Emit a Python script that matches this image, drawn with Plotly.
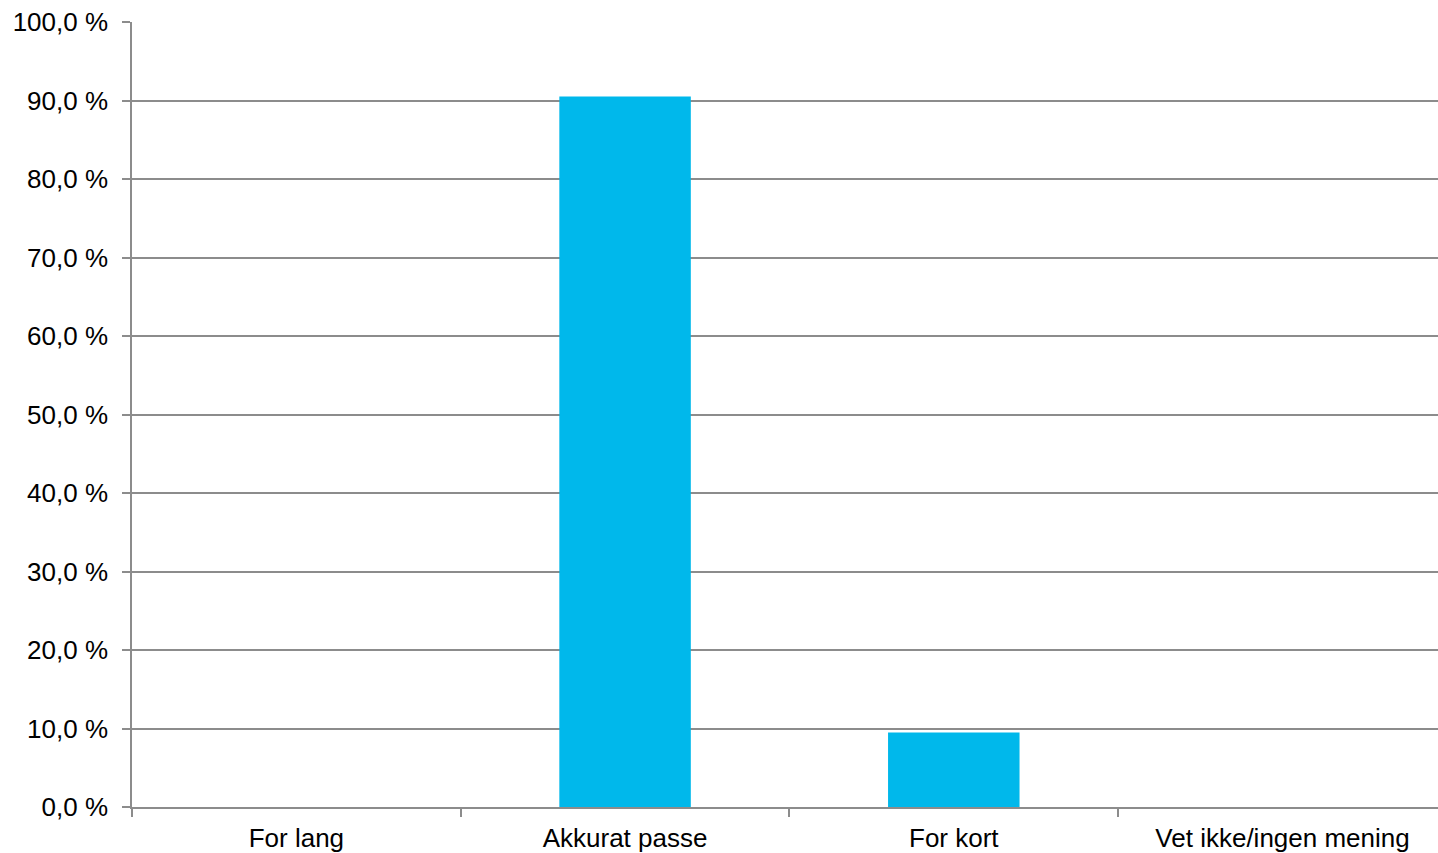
import plotly.graph_objects as go

categories = ["For lang", "Akkurat passe", "For kort", "Vet ikke/ingen mening"]
values = [0.0, 90.5, 9.5, 0.0]
y_ticks = [0, 10, 20, 30, 40, 50, 60, 70, 80, 90, 100]
y_tick_labels = ["0,0 %", "10,0 %", "20,0 %", "30,0 %", "40,0 %", "50,0 %",
                 "60,0 %", "70,0 %", "80,0 %", "90,0 %", "100,0 %"]

fig = go.Figure()
fig.add_trace(go.Bar(
    x=categories, y=values,
    marker=dict(color="#00B8EB", line=dict(width=0)),
    hoverinfo="x+y",
))

grid = "#8C8C8C"
fig.update_layout(
    width=1438, height=853,
    margin=dict(l=132, r=0, t=22, b=46, autoexpand=False),
    paper_bgcolor="white", plot_bgcolor="white",
    bargap=0.6,
    showlegend=False,
    font=dict(family="Liberation Sans, Arial, sans-serif", size=26, color="black"),
    xaxis=dict(
        type="category",
        range=[-0.5, 3.473],
        showgrid=False,
        showline=True, linecolor=grid, linewidth=1.5,
        ticks="outside", tickson="boundaries", ticklen=8, tickcolor=grid, tickwidth=1.5,
        tickfont=dict(size=26),
        ticklabelstandoff=7,
        automargin=False,
    ),
    yaxis=dict(
        range=[0, 100],
        tickmode="array",
        tickvals=y_ticks,
        ticktext=y_tick_labels,
        showgrid=True, gridcolor=grid, gridwidth=1.5,
        showline=True, linecolor=grid, linewidth=1.5,
        ticks="outside", ticklen=8, tickcolor=grid, tickwidth=1.5,
        tickfont=dict(size=26),
        ticklabelstandoff=9,
        zeroline=False,
        automargin=False,
    ),
)

post = "document.body.style.margin='0';document.body.style.overflow='hidden';"
fig.write_html("out.html", post_script=post, config={"displayModeBar": False})
